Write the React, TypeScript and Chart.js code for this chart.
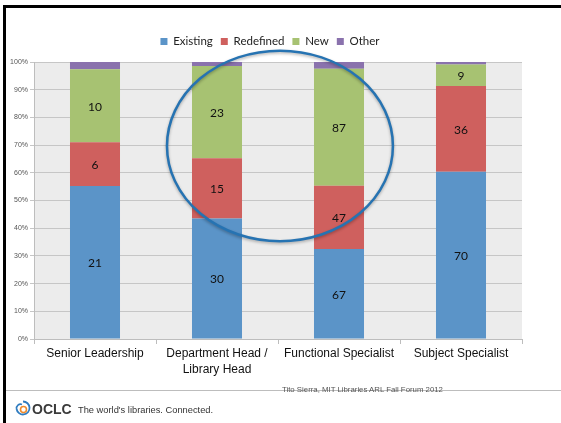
import React, { useEffect, useRef } from "react";
import { Chart, registerables } from "chart.js";

Chart.register(...registerables);

const categories: (string | string[])[] = [
  "Senior Leadership",
  ["Department Head /", "Library Head"],
  "Functional Specialist",
  "Subject Specialist",
];
const seriesNames = ["Existing", "Redefined", "New", "Other"];
const existing = [21, 30, 67, 70];
const redefined = [6, 15, 47, 36];
const newRoles = [10, 23, 87, 9];
const other = [1, 1, 5, 1];
const colors = ["#5b94c8", "#cf605e", "#a7c272", "#8a72ad"];
const showValue = [true, true, true, false];

const totals = categories.map((_, i) => existing[i] + redefined[i] + newRoles[i] + other[i]);
const toPct = (arr: number[]) => arr.map((v, i) => (v / totals[i]) * 100);

const bgPlugin = {
  id: "plotBg",
  afterLayout(chart: any) {
    if (chart.legend) {
      chart.legend.left = 18;
    }
  },
  beforeDraw(chart: any) {
    const { ctx, chartArea } = chart;
    ctx.save();
    ctx.fillStyle = "#ececec";
    ctx.fillRect(chartArea.left, chartArea.top, chartArea.right - chartArea.left, chartArea.bottom - chartArea.top);
    ctx.restore();
  },
};

const valuePlugin = {
  id: "valueLabels",
  afterDatasetsDraw(chart: any) {
    const ctx = chart.ctx;
    ctx.save();
    ctx.font = "12px Lato";
    ctx.fillStyle = "#111";
    ctx.textAlign = "center";
    ctx.textBaseline = "middle";
    chart.data.datasets.forEach((ds: any, i: number) => {
      if (!ds.showValue) return;
      const meta = chart.getDatasetMeta(i);
      meta.data.forEach((bar: any, j: number) => {
        const p = bar.getProps(["x", "y", "base"], true);
        ctx.fillText(String(ds.rawValues[j]), p.x, (p.y + p.base) / 2 + 1);
      });
    });
    ctx.restore();
  },
};

const ellipsePlugin = {
  id: "highlightEllipse",
  afterDraw(chart: any) {
    const { ctx } = chart;
    const xs = chart.scales.x;
    const ys = chart.scales.y;
    const cx = xs.getPixelForValue(1.516);
    const rx = xs.getPixelForValue(1.516 + 0.926) - cx;
    const cy = ys.getPixelForValue(69.7);
    const ry = ys.getPixelForValue(35.3) - cy;
    ctx.save();
    ctx.shadowColor = "rgba(0,0,0,0.3)";
    ctx.shadowBlur = 3;
    ctx.shadowOffsetY = 1.5;
    ctx.strokeStyle = "#2673b2";
    ctx.lineWidth = 2.5;
    ctx.beginPath();
    ctx.ellipse(cx, cy, rx, ry, 0, 0, Math.PI * 2);
    ctx.stroke();
    ctx.restore();
  },
};

function ChartView() {
  const ref = useRef<HTMLCanvasElement | null>(null);
  useEffect(() => {
    if (!ref.current) return;
    const raw = [existing, redefined, newRoles, other];
    const chart = new Chart(ref.current, {
      type: "bar",
      data: {
        labels: categories as any,
        datasets: raw.map((arr, k) => ({
          label: seriesNames[k],
          data: toPct(arr),
          rawValues: arr,
          showValue: showValue[k],
          backgroundColor: colors[k],
          borderWidth: 0,
          barPercentage: 0.41,
          categoryPercentage: 1,
        })) as any,
      },
      options: {
        animation: false,
        responsive: false,
        maintainAspectRatio: false,
        layout: { padding: { left: 0, right: 39, top: 27.75, bottom: 0 } },
        plugins: {
          tooltip: { enabled: false },
          legend: {
            position: "top",
            labels: {
              boxWidth: 7,
              boxHeight: 7,
              padding: 8,
              color: "#222",
              font: { family: "Lato", size: 11.5 },
            },
          },
          subtitle: {
            display: true,
            text: "",
            position: "top",
            weight: 500,
            padding: 0,
            font: { size: 4, lineHeight: 1.1875 },
          },
        },
        scales: {
          x: {
            stacked: true,
            afterFit: (s: any) => {
              s.height = 84;
            },
            grid: {
              display: true,
              drawOnChartArea: false,
              drawTicks: true,
              tickLength: 5,
              color: "#bdbdbd",
              offset: true,
            },
            border: { color: "#bdbdbd" },
            ticks: {
              color: "#111",
              padding: 2,
              maxRotation: 0,
              autoSkip: false,
              font: { family: "Liberation Sans", size: 12, lineHeight: 1.3 },
            },
          },
          y: {
            stacked: true,
            min: 0,
            max: 100,
            afterFit: (s: any) => {
              s.width = 34;
            },
            grid: {
              color: "#c6c6c6",
              tickLength: 4,
            },
            border: { color: "#bdbdbd" },
            ticks: {
              stepSize: 10,
              padding: 2,
              color: "#555",
              font: { family: "Liberation Sans", size: 7 },
              callback: (v: any) => v + "%",
            },
          },
        },
      } as any,
      plugins: [bgPlugin, valuePlugin, ellipsePlugin],
    });
    return () => chart.destroy();
  }, []);
  return <canvas ref={ref} width={561} height={423} style={{ position: "absolute", left: 0, top: 0 }} />;
}

export default function App() {
  return (
    <div
      style={{
        position: "fixed",
        left: 0,
        top: 0,
        width: 561,
        height: 423,
        background: "#fff",
        overflow: "hidden",
      }}
    >
      <ChartView />
      <div style={{ position: "absolute", left: 3, top: 5, width: 558, height: 3, background: "#000" }} />
      <div style={{ position: "absolute", left: 3, top: 5, width: 3, height: 418, background: "#000" }} />
      <div style={{ position: "absolute", left: 6, top: 390, width: 555, height: 1, background: "#bdbdbd" }} />
      <div
        style={{
          position: "absolute",
          left: 282,
          top: 385,
          fontFamily: "Liberation Sans",
          fontSize: 7.8,
          color: "#555",
          whiteSpace: "nowrap",
          lineHeight: "10px",
        }}
      >
        Tito Sierra, MIT Libraries ARL Fall Forum 2012
      </div>
      <svg style={{ position: "absolute", left: 15, top: 400 }} width={16} height={16} viewBox="0 0 16 16">
        <path d="M8 1.5 A6.5 6.5 0 1 1 1.6 9" fill="none" stroke="#2f7cc0" strokeWidth={1.8} />
        <path d="M1.6 9 A4 4 0 0 1 7 4.5" fill="none" stroke="#2f7cc0" strokeWidth={1.6} />
        <circle cx={8.5} cy={9.5} r={3} fill="none" stroke="#ef8a2c" strokeWidth={1.6} />
      </svg>
      <div
        style={{
          position: "absolute",
          left: 32,
          top: 401,
          fontFamily: "Liberation Sans",
          fontWeight: "bold",
          fontSize: 14,
          color: "#3a3a3a",
          lineHeight: "16px",
          whiteSpace: "nowrap",
        }}
      >
        OCLC
      </div>
      <div
        style={{
          position: "absolute",
          left: 78,
          top: 404,
          fontFamily: "Liberation Sans",
          fontSize: 9.3,
          color: "#333",
          lineHeight: "12px",
          whiteSpace: "nowrap",
        }}
      >
        The world's libraries. Connected.
      </div>
    </div>
  );
}
